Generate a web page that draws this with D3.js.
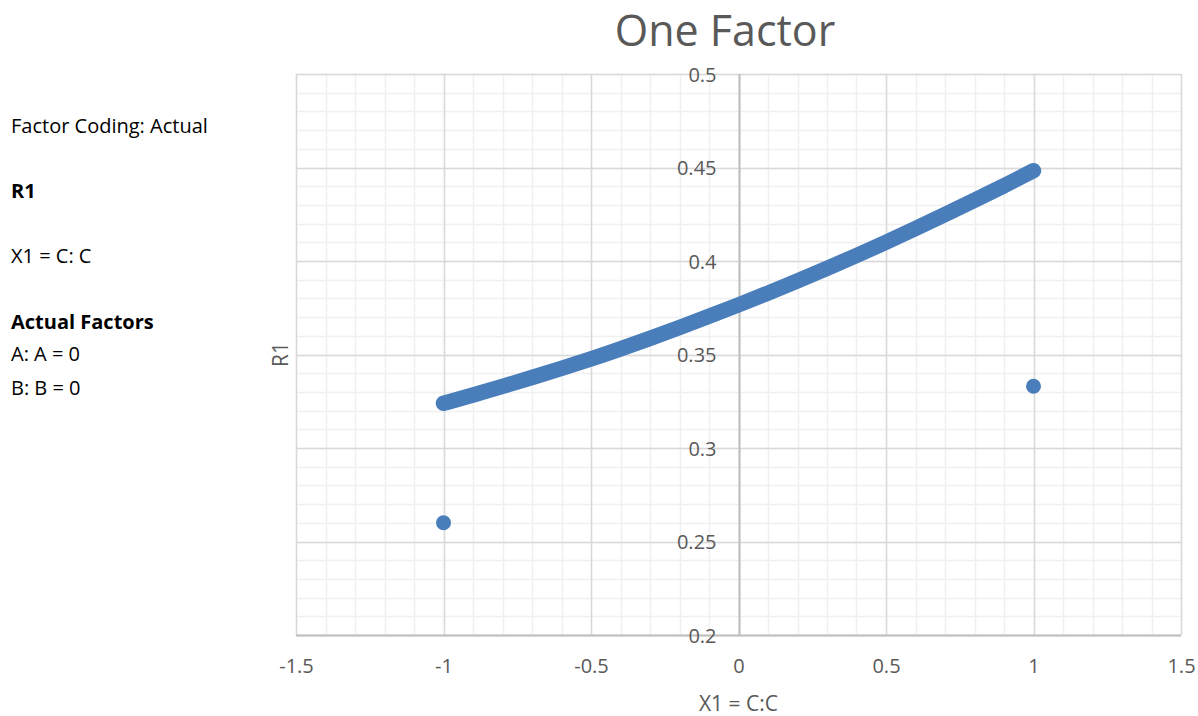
<!DOCTYPE html>
<html>
<head>
<meta charset="utf-8">
<script src="https://cdn.jsdelivr.net/npm/d3@7"></script>
<style>
  html, body { margin: 0; padding: 0; background: #fff; }
  svg { display: block; font-family: "Open Sans", "Noto Sans", sans-serif; }
</style>
</head>
<body>
<svg id="chart" width="1198" height="716"></svg>
<script>
// ---- data ----
const title = "One Factor";
const xAxisTitle = "X1 = C:C";
const yAxisTitle = "R1";
const xTicks = [-1.5, -1, -0.5, 0, 0.5, 1, 1.5];
const yTicks = [0.2, 0.25, 0.3, 0.35, 0.4, 0.45, 0.5];
const yTickLabels = ["0.2", "0.25", "0.3", "0.35", "0.4", "0.45", "0.5"];
const xTickLabels = ["-1.5", "-1", "-0.5", "0", "0.5", "1", "1.5"];
// predicted curve (dense points drawn as a thick band)
const curveX = [-1, -0.9, -0.8, -0.7, -0.6, -0.5, -0.4, -0.3, -0.2, -0.1, 0, 0.1, 0.2, 0.3, 0.4, 0.5, 0.6, 0.7, 0.8, 0.9, 1];
const curveY = [0.3239, 0.3283, 0.3329, 0.3377, 0.3426, 0.3476, 0.3530, 0.3586, 0.3644, 0.3704, 0.3765, 0.3828, 0.3893, 0.3960, 0.4029, 0.4100, 0.4173, 0.4248, 0.4324, 0.4402, 0.4483];
// actual design points
const pointX = [-1, 1];
const pointY = [0.26, 0.333];
const sideNotes = [
  { text: "Factor Coding: Actual", bold: false, y: 133 },
  { text: "R1", bold: true, y: 198 },
  { text: "X1 = C: C", bold: false, y: 263 },
  { text: "Actual Factors", bold: true, y: 329 },
  { text: "A: A = 0", bold: false, y: 361 },
  { text: "B: B = 0", bold: false, y: 395 }
];

// ---- layout ----
const svg = d3.select("#chart");
const L = 296, R = 1181, T = 74, B = 635;
const x = d3.scaleLinear().domain([-1.5, 1.5]).range([L, R]);
const y = d3.scaleLinear().domain([0.2, 0.5]).range([B, T]);
const blue = "#4a7ebb";
const txt = "#595959";

// minor grid
const minorX = d3.range(-15, 16).map(d => d / 10);
const minorY = d3.range(20, 51).map(d => d / 100);
const g = svg.append("g");
g.selectAll(".mx").data(minorX).enter().append("line")
  .attr("x1", d => Math.round(x(d)) + 0.5).attr("x2", d => Math.round(x(d)) + 0.5)
  .attr("y1", T).attr("y2", B).attr("stroke", "#f0f0f0").attr("stroke-width", 1.5);
g.selectAll(".my").data(minorY).enter().append("line")
  .attr("y1", d => Math.round(y(d)) + 0.5).attr("y2", d => Math.round(y(d)) + 0.5)
  .attr("x1", L).attr("x2", R).attr("stroke", "#f0f0f0").attr("stroke-width", 1.5);
// major grid
g.selectAll(".Mx").data(xTicks).enter().append("line")
  .attr("x1", d => Math.round(x(d)) + 0.5).attr("x2", d => Math.round(x(d)) + 0.5)
  .attr("y1", T).attr("y2", B).attr("stroke", "#d9d9d9").attr("stroke-width", 1.5);
g.selectAll(".My").data(yTicks).enter().append("line")
  .attr("y1", d => Math.round(y(d)) + 0.5).attr("y2", d => Math.round(y(d)) + 0.5)
  .attr("x1", L).attr("x2", R).attr("stroke", "#d9d9d9").attr("stroke-width", 1.5);

// axes lines
svg.append("line").attr("x1", L).attr("x2", R).attr("y1", B + 0.5).attr("y2", B + 0.5)
  .attr("stroke", "#bfbfbf").attr("stroke-width", 2);
svg.append("line").attr("x1", Math.round(x(0)) + 0.5).attr("x2", Math.round(x(0)) + 0.5)
  .attr("y1", T).attr("y2", B).attr("stroke", "#bfbfbf").attr("stroke-width", 2);

// tick labels
const xAxis = d3.axisBottom(x).tickValues(xTicks).tickSize(0)
  .tickFormat((d, i) => xTickLabels[i]);
const xg = svg.append("g").attr("transform", `translate(0,${B})`).call(xAxis);
xg.select(".domain").remove();
xg.selectAll("text").attr("dy", 0).attr("y", 38)
  .attr("font-size", 20).attr("fill", txt).attr("font-family", "Open Sans, Noto Sans, sans-serif");

const yAxis = d3.axisLeft(y).tickValues(yTicks).tickSize(0)
  .tickFormat((d, i) => yTickLabels[i]);
const yg = svg.append("g").attr("transform", `translate(${x(0) - 22},0)`).call(yAxis);
yg.select(".domain").remove();
yg.selectAll("text").attr("x", 0).attr("dy", "0.35em")
  .attr("font-size", 20).attr("fill", txt).attr("font-family", "Open Sans, Noto Sans, sans-serif");

// curve as dense markers -> thick round band
const line = d3.line().x(d => x(d[0])).y(d => y(d[1])).curve(d3.curveBasis);
svg.append("path").datum(curveX.map((d, i) => [d, curveY[i]]))
  .attr("d", line).attr("fill", "none").attr("stroke", blue)
  .attr("stroke-width", 15.5).attr("stroke-linecap", "round");

// actual points
svg.selectAll(".pt").data(pointX.map((d, i) => [d, pointY[i]])).enter().append("circle")
  .attr("cx", d => x(d[0])).attr("cy", d => y(d[1])).attr("r", 7.5).attr("fill", blue);

// titles
svg.append("text").attr("x", 725).attr("y", 46).attr("text-anchor", "middle")
  .attr("font-size", 43).attr("fill", txt).text(title);
svg.append("text").attr("x", x(0)).attr("y", 711).attr("text-anchor", "middle")
  .attr("font-size", 21).attr("fill", txt).text(xAxisTitle);
svg.append("text").attr("transform", `translate(288,${(T + B) / 2}) rotate(-90)`)
  .attr("text-anchor", "middle").attr("font-size", 21).attr("fill", txt).text(yAxisTitle);

// side notes
svg.selectAll(".note").data(sideNotes).enter().append("text")
  .attr("x", 11).attr("y", d => d.y).attr("font-size", 20)
  .attr("font-weight", d => d.bold ? "bold" : "normal").attr("fill", "#000")
  .text(d => d.text);
</script>
</body>
</html>
